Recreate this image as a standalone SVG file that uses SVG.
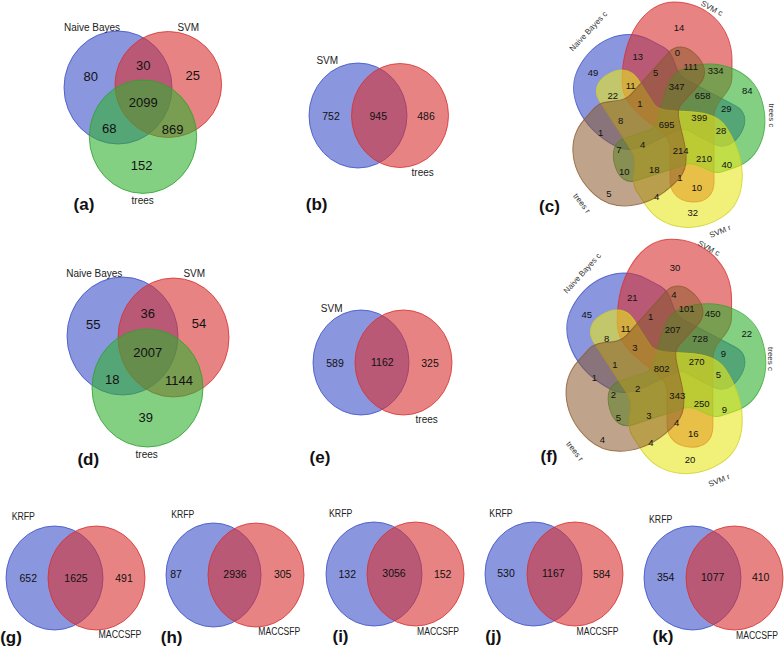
<svg xmlns="http://www.w3.org/2000/svg" xmlns:xlink="http://www.w3.org/1999/xlink" width="784" height="647" viewBox="0 0 784 647">
<defs>
<style>
text{font-family:"Liberation Sans",Arial,sans-serif;fill:#111}
.n13{font-size:13px;text-anchor:middle}
.n10{font-size:10.5px;text-anchor:middle}
.n9{font-size:9.5px;text-anchor:middle}
.lb{font-size:10px;text-anchor:middle;fill:#222}
.l8{font-size:8px;text-anchor:middle;fill:#333}
.pl{font-size:17px;font-weight:bold;text-anchor:middle}
.cb{fill:#3c50c8;fill-opacity:.6;stroke:#3c50c8;stroke-opacity:.8;stroke-width:1}
.cr{fill:#d83030;fill-opacity:.6;stroke:#d83030;stroke-opacity:.8;stroke-width:1}
.cg{fill:#30b030;fill-opacity:.6;stroke:#30a030;stroke-opacity:.8;stroke-width:1}
.cy{fill:#e8e820;fill-opacity:.6;stroke:#d0d020;stroke-opacity:.8;stroke-width:1}
.cn{fill:#8b5a2b;fill-opacity:.55;stroke:#8b5a2b;stroke-opacity:.8;stroke-width:1}
</style>
<path id="blob" d="M -46,-40 C -46,-88 -22,-120 6,-120 C 38,-120 64,-96 64,-62 L 64,-45 C 64,-28 46,-22 46,-5 L 46,60 C 46,73 38,80 26,80 C 12,80 2,72 2,58 L 2,25 C 2,6 -46,-6 -46,-40 Z"/>
</defs>
<rect width="784" height="647" fill="#fff"/>

<g id="panel-a">
<ellipse class="cb" cx="118" cy="87.5" rx="54" ry="56.5"/>
<ellipse class="cr" cx="168.3" cy="84.5" rx="53.3" ry="53"/>
<ellipse class="cg" cx="143" cy="136.7" rx="53.7" ry="56.7"/>
<text class="lb" x="92" y="31">Naive Bayes</text>
<text class="lb" x="188.3" y="31">SVM</text>
<text class="n13" x="90.7" y="80.7">80</text>
<text class="n13" x="143.3" y="69.7">30</text>
<text class="n13" x="192.7" y="79.7">25</text>
<text class="n13" x="143.3" y="107.4">2099</text>
<text class="n13" x="109.3" y="133">68</text>
<text class="n13" x="172.7" y="134">869</text>
<text class="n13" x="141.7" y="169.7">152</text>
<text class="lb" x="142.7" y="204">trees</text>
<text class="pl" x="84" y="209.5">(a)</text>
</g>

<g id="panel-b">
<ellipse class="cb" cx="358" cy="115.5" rx="49" ry="52.5"/>
<ellipse class="cr" cx="400" cy="115.5" rx="48.5" ry="52"/>
<text class="lb" x="327.3" y="64.3">SVM</text>
<text class="n10" x="331" y="119.5">752</text>
<text class="n10" x="378.3" y="119.5">945</text>
<text class="n10" x="426" y="119.5">486</text>
<text class="lb" x="422.7" y="176">trees</text>
<text class="pl" x="316.7" y="209.7">(b)</text>
</g>

<g id="panel-c">
<g transform="translate(668,122)">
<use xlink:href="#blob" class="cb" transform="rotate(-62) scale(1,0.87)"/>
<use xlink:href="#blob" class="cr"/>
<use xlink:href="#blob" class="cg" transform="rotate(72) scale(1,0.8)"/>
<use xlink:href="#blob" class="cy" transform="rotate(147) scale(1,0.91)"/>
<use xlink:href="#blob" class="cn" transform="rotate(-138) scale(1,0.86)"/>
</g>
<text class="l8" transform="translate(588,31) rotate(-47)" y="3">Naive Bayes c</text>
<text class="l8" transform="translate(712,8) rotate(28)" y="3">SVM c</text>
<text class="l8" transform="translate(772,115.5) rotate(90)" y="3">trees c</text>
<text class="l8" transform="translate(720,231) rotate(-22)" y="3">SVM r</text>
<text class="l8" transform="translate(582,203) rotate(52)" y="3">trees r</text>
<text class="n9" x="679" y="31.4">14</text>
<text class="n9" x="637.7" y="60.4">13</text>
<text class="n9" x="677.3" y="56.4">0</text>
<text class="n9" x="593" y="76.4">49</text>
<text class="n9" x="655.7" y="76.4">5</text>
<text class="n9" x="690.7" y="70.4">111</text>
<text class="n9" x="715.7" y="74.4">334</text>
<text class="n9" x="630.7" y="89.4">11</text>
<text class="n9" x="676.7" y="90.4">347</text>
<text class="n9" x="747.3" y="94.4">84</text>
<text class="n9" x="612.7" y="99.4">22</text>
<text class="n9" x="702.7" y="99.4">658</text>
<text class="n9" x="640" y="107.4">1</text>
<text class="n9" x="726.3" y="112.4">29</text>
<text class="n9" x="620.7" y="124">8</text>
<text class="n9" x="666.7" y="127.7">695</text>
<text class="n9" x="699.3" y="121">399</text>
<text class="n9" x="600.7" y="135.7">1</text>
<text class="n9" x="721" y="134.4">28</text>
<text class="n9" x="619" y="153.4">7</text>
<text class="n9" x="642.7" y="148.4">4</text>
<text class="n9" x="680.7" y="154.4">214</text>
<text class="n9" x="704" y="162.4">210</text>
<text class="n9" x="726.7" y="168">40</text>
<text class="n9" x="624.3" y="175">10</text>
<text class="n9" x="654.3" y="173.4">18</text>
<text class="n9" x="680" y="180.7">1</text>
<text class="n9" x="696.7" y="190.7">10</text>
<text class="n9" x="609" y="197.4">5</text>
<text class="n9" x="656.7" y="199.7">4</text>
<text class="n9" x="692.7" y="215.7">32</text>
<text class="pl" x="549.5" y="211.5">(c)</text>
</g>

<g id="panel-d">
<ellipse class="cb" cx="122.5" cy="336" rx="55.5" ry="59"/>
<ellipse class="cr" cx="173.5" cy="337.5" rx="55.5" ry="59.5"/>
<ellipse class="cg" cx="147.5" cy="388" rx="55.5" ry="59"/>
<text class="lb" x="94.3" y="276.7">Naive Bayes</text>
<text class="lb" x="194.3" y="276.7">SVM</text>
<text class="n13" x="93.3" y="329">55</text>
<text class="n13" x="147.7" y="318">36</text>
<text class="n13" x="199" y="328">54</text>
<text class="n13" x="147.7" y="357.4">2007</text>
<text class="n13" x="112.3" y="383.7">18</text>
<text class="n13" x="179" y="384.7">1144</text>
<text class="n13" x="145.7" y="422">39</text>
<text class="lb" x="146.7" y="458.3">trees</text>
<text class="pl" x="88.3" y="464.5">(d)</text>
</g>

<g id="panel-e">
<ellipse class="cb" cx="361" cy="362.5" rx="48" ry="52.5"/>
<ellipse class="cr" cx="403.5" cy="362.5" rx="48.5" ry="52.5"/>
<text class="lb" x="331.7" y="311.7">SVM</text>
<text class="n10" x="335" y="366.5">589</text>
<text class="n10" x="382.3" y="365.5">1162</text>
<text class="n10" x="430" y="366.5">325</text>
<text class="lb" x="426.7" y="423.3">trees</text>
<text class="pl" x="320" y="463">(e)</text>
</g>

<g id="panel-f">
<g transform="translate(665,364) scale(1.04)">
<use xlink:href="#blob" class="cb" transform="rotate(-62) scale(1,0.87)"/>
<use xlink:href="#blob" class="cr"/>
<use xlink:href="#blob" class="cg" transform="rotate(72) scale(1,0.8)"/>
<use xlink:href="#blob" class="cy" transform="rotate(147) scale(1,0.91)"/>
<use xlink:href="#blob" class="cn" transform="rotate(-138) scale(1,0.86)"/>
</g>
<text class="l8" transform="translate(582,273) rotate(-48)" y="3">Naive Bayes c</text>
<text class="l8" transform="translate(709,248) rotate(28)" y="3">SVM c</text>
<text class="l8" transform="translate(771,359) rotate(90)" y="3">trees c</text>
<text class="l8" transform="translate(719,480) rotate(-22)" y="3">SVM r</text>
<text class="l8" transform="translate(575,451) rotate(52)" y="3">trees r</text>
<text class="n9" x="675" y="271.4">30</text>
<text class="n9" x="632.3" y="301.4">21</text>
<text class="n9" x="674" y="298.4">4</text>
<text class="n9" x="586.7" y="318.4">45</text>
<text class="n9" x="650.7" y="319.7">1</text>
<text class="n9" x="686.7" y="312.4">101</text>
<text class="n9" x="712.7" y="316.7">450</text>
<text class="n9" x="625.7" y="331.7">11</text>
<text class="n9" x="672.7" y="333.4">207</text>
<text class="n9" x="746.7" y="336.7">22</text>
<text class="n9" x="606.7" y="341.7">8</text>
<text class="n9" x="700" y="341.7">728</text>
<text class="n9" x="635" y="350.7">3</text>
<text class="n9" x="723.3" y="356.7">9</text>
<text class="n9" x="696.7" y="364.7">270</text>
<text class="n9" x="615" y="368.4">1</text>
<text class="n9" x="661.7" y="371.7">802</text>
<text class="n9" x="594.3" y="380.7">1</text>
<text class="n9" x="718.3" y="378.4">5</text>
<text class="n9" x="637.7" y="392.4">2</text>
<text class="n9" x="613.3" y="398.4">2</text>
<text class="n9" x="677.3" y="399.4">343</text>
<text class="n9" x="701.7" y="407.4">250</text>
<text class="n9" x="724.3" y="412.7">9</text>
<text class="n9" x="618.3" y="420.7">5</text>
<text class="n9" x="649" y="419">3</text>
<text class="n9" x="676.7" y="425.7">4</text>
<text class="n9" x="693.3" y="437.4">16</text>
<text class="n9" x="602.3" y="442.7">4</text>
<text class="n9" x="651" y="445.7">4</text>
<text class="n9" x="690" y="462.7">20</text>
<text class="pl" x="549" y="461.5">(f)</text>
</g>

<g id="panel-g">
<ellipse class="cb" cx="54.5" cy="578" rx="48.5" ry="52"/>
<ellipse class="cr" cx="96.5" cy="578" rx="48.5" ry="52"/>
<text class="lb" x="23.3" y="520" textLength="23.3" lengthAdjust="spacingAndGlyphs">KRFP</text>
<text class="n10" x="28.3" y="581.5">652</text>
<text class="n10" x="76" y="581.5">1625</text>
<text class="n10" x="124" y="581.5">491</text>
<text class="lb" x="120" y="638.3" textLength="43" lengthAdjust="spacingAndGlyphs">MACCSFP</text>
<text class="pl" x="11" y="643">(g)</text>
</g>

<g id="panel-h">
<ellipse class="cb" cx="213.5" cy="575" rx="47.5" ry="52"/>
<ellipse class="cr" cx="256" cy="575" rx="48" ry="52"/>
<text class="lb" x="182.7" y="517.7" textLength="23" lengthAdjust="spacingAndGlyphs">KRFP</text>
<text class="n10" x="176" y="577.8">87</text>
<text class="n10" x="235" y="577.8">2936</text>
<text class="n10" x="282.7" y="577.8">305</text>
<text class="lb" x="279.3" y="635" textLength="42" lengthAdjust="spacingAndGlyphs">MACCSFP</text>
<text class="pl" x="171.7" y="643">(h)</text>
</g>

<g id="panel-i">
<ellipse class="cb" cx="374" cy="574" rx="48" ry="52"/>
<ellipse class="cr" cx="415.5" cy="574" rx="48.5" ry="52"/>
<text class="lb" x="340.7" y="516.7" textLength="23.3" lengthAdjust="spacingAndGlyphs">KRFP</text>
<text class="n10" x="347.3" y="577.8">132</text>
<text class="n10" x="394" y="577.1">3056</text>
<text class="n10" x="442.7" y="577.8">152</text>
<text class="lb" x="438" y="635" textLength="42" lengthAdjust="spacingAndGlyphs">MACCSFP</text>
<text class="pl" x="340.5" y="641.5">(i)</text>
</g>

<g id="panel-j">
<ellipse class="cb" cx="533.5" cy="574" rx="48.5" ry="52"/>
<ellipse class="cr" cx="575" cy="574" rx="48" ry="52"/>
<text class="lb" x="501" y="516.7" textLength="23.3" lengthAdjust="spacingAndGlyphs">KRFP</text>
<text class="n10" x="506" y="577.1">530</text>
<text class="n10" x="553.3" y="577.1">1167</text>
<text class="n10" x="601.7" y="577.8">584</text>
<text class="lb" x="597.5" y="635" textLength="42" lengthAdjust="spacingAndGlyphs">MACCSFP</text>
<text class="pl" x="493.3" y="641.5">(j)</text>
</g>

<g id="panel-k">
<ellipse class="cb" cx="692.5" cy="578" rx="48.5" ry="52"/>
<ellipse class="cr" cx="734.5" cy="578" rx="48.5" ry="52"/>
<text class="lb" x="660.7" y="522.7" textLength="23.3" lengthAdjust="spacingAndGlyphs">KRFP</text>
<text class="n10" x="665.7" y="581.1">354</text>
<text class="n10" x="712.7" y="581.1">1077</text>
<text class="n10" x="760.7" y="581.1">410</text>
<text class="lb" x="757" y="639" textLength="42" lengthAdjust="spacingAndGlyphs">MACCSFP</text>
<text class="pl" x="663" y="641.5">(k)</text>
</g>
</svg>
